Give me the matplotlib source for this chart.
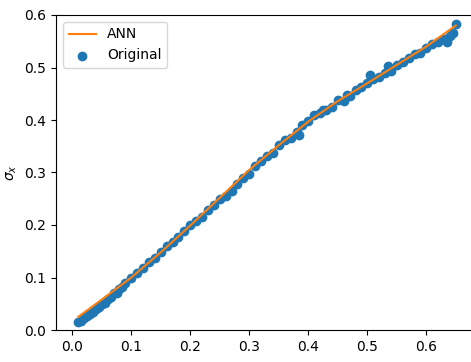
import matplotlib
matplotlib.use("Agg")
import matplotlib.pyplot as plt

# ANN prediction
ann_x = [0.01, 0.05, 0.10, 0.15, 0.20, 0.25, 0.30, 0.35, 0.40, 0.45, 0.50, 0.55, 0.60, 0.65]
ann_y = [0.025, 0.058, 0.100, 0.148, 0.199, 0.252, 0.305, 0.352, 0.397, 0.436, 0.470, 0.505, 0.540, 0.580]

# original samples
orig_x = [0.01, 0.02, 0.03, 0.04, 0.05, 0.06, 0.07, 0.08, 0.09, 0.10,
          0.11, 0.12, 0.13, 0.14, 0.15, 0.16, 0.17, 0.18, 0.19, 0.20,
          0.21, 0.22, 0.23, 0.24, 0.25, 0.26, 0.27, 0.28, 0.29, 0.30,
          0.31, 0.32, 0.33, 0.34, 0.35, 0.36, 0.37, 0.38, 0.39, 0.40,
          0.41, 0.42, 0.43, 0.44, 0.45, 0.46, 0.47, 0.48, 0.49, 0.50,
          0.51, 0.52, 0.53, 0.54, 0.55, 0.56, 0.57, 0.58, 0.59, 0.60,
          0.61, 0.62, 0.63, 0.64, 0.65,
          0.015, 0.025, 0.035, 0.045, 0.055, 0.065, 0.075, 0.085,
          0.385, 0.425, 0.465, 0.505, 0.535, 0.635, 0.645]
orig_y = [0.015, 0.022, 0.031, 0.040, 0.050, 0.060, 0.070, 0.079, 0.089, 0.099,
          0.109, 0.118, 0.130, 0.138, 0.149, 0.160, 0.168, 0.178, 0.189, 0.200,
          0.207, 0.216, 0.228, 0.238, 0.249, 0.256, 0.265, 0.279, 0.290, 0.297,
          0.312, 0.322, 0.332, 0.338, 0.352, 0.362, 0.365, 0.378, 0.390, 0.398,
          0.409, 0.413, 0.420, 0.425, 0.438, 0.437, 0.445, 0.458, 0.462, 0.470,
          0.478, 0.481, 0.490, 0.494, 0.505, 0.510, 0.518, 0.526, 0.528, 0.537,
          0.545, 0.548, 0.555, 0.560, 0.583,
          0.018, 0.026, 0.034, 0.043, 0.052, 0.062, 0.071, 0.081,
          0.372, 0.420, 0.448, 0.486, 0.503, 0.548, 0.565]

fig = plt.figure(figsize=(4.71, 3.62), dpi=100)
ax = fig.add_axes([56 / 471, 32 / 362, 422 / 471, 315 / 362])

ax.plot(ann_x, ann_y, color='tab:orange', label='ANN')
ax.scatter(orig_x, orig_y, color='tab:blue', label='Original')

# right end of the axes falls just outside the saved picture, as in the reference
ax.set_xlim(-0.0276, 0.6876)
ax.set_ylim(0, 0.6)
ax.set_xlabel('e')
ax.set_ylabel(r'$\sigma_x$')
ax.legend(loc='upper left')

fig.savefig('out.png', dpi=100)
